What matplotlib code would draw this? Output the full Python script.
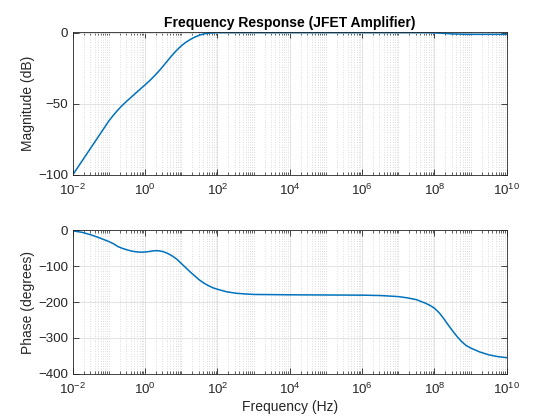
import numpy as np
import matplotlib
matplotlib.use("Agg")
import matplotlib.pyplot as plt
from matplotlib.ticker import FixedLocator, LogLocator, NullFormatter, LogFormatterSciNotation

# log10 of frequency (Hz) where values were read
mag_logf = [-2, -1.75, -1.5, -1.25, -1.0, -0.875, -0.75, -0.625, -0.5, -0.375, -0.25, -0.125, 0.0,
            0.125, 0.25, 0.375, 0.5, 0.625, 0.75, 0.875, 1.0, 1.125, 1.25, 1.375, 1.5, 1.625, 1.75,
            1.875, 2.0, 3, 4, 5, 6, 7, 7.75, 8.0, 8.25, 8.5, 8.75, 9.0, 9.5, 10.0]
mag_db = [-100, -90.5, -81, -71.5, -62, -58, -54.3, -51, -48, -45.2, -42.3, -39.5, -36.7,
          -33.8, -30.6, -27.2, -23.5, -19.6, -15.8, -12.3, -9.3, -6.8, -4.8, -3.1, -1.8, -0.9, -0.4,
          -0.15, 0, 0, 0, 0, 0, 0, 0, -0.2, -0.5, -0.9, -1.1, -1.2, -1.2, -1.2]

ph_logf = [-2, -1.75, -1.5, -1.25, -1.0, -0.875, -0.75, -0.625, -0.5, -0.375, -0.25, -0.125, 0.0,
           0.125, 0.25, 0.375, 0.5, 0.625, 0.75, 0.875, 1.0, 1.125, 1.25, 1.375, 1.5, 1.625, 1.75,
           1.875, 2.0, 2.25, 2.5, 2.75, 3, 4, 5, 6, 6.5, 7.0, 7.25, 7.5, 7.75, 7.875, 8.0,
           8.125, 8.25, 8.375, 8.5, 8.625, 8.75, 8.875, 9.0, 9.25, 9.5, 9.75, 10.0]
ph_deg = [-1, -5, -12, -21, -31, -37, -45, -50, -54, -57.5, -59.5, -60.5, -60,
          -58.5, -56.5, -56.5, -59, -64, -71, -80, -92, -104, -116, -127, -138, -147, -154,
          -160, -164, -171, -175, -177, -178.5, -179.5, -180, -180.5, -181.5, -184.5, -188, -193, -203, -209, -217,
          -229, -245, -263, -280, -296, -310, -321, -328, -339, -347, -352, -355]

title = "Frequency Response (JFET Amplifier)"
ylabel_mag = "Magnitude (dB)"
ylabel_ph = "Phase (degrees)"
xlabel = "Frequency (Hz)"
mag_yticks = [-100, -50, 0]
ph_yticks = [-400, -300, -200, -100, 0]
xmajor = [1e-2, 1e0, 1e2, 1e4, 1e6, 1e8, 1e10]

plt.rcParams['font.family'] = ['Liberation Sans', 'DejaVu Sans']
plt.rcParams['mathtext.fontset'] = 'custom'
plt.rcParams['mathtext.rm'] = 'Liberation Sans'
plt.rcParams['mathtext.it'] = 'Liberation Sans'

line_color = '#0072BD'
axc = '#262626'

fig = plt.figure(figsize=(5.6, 4.2), dpi=100)
ax1 = fig.add_axes([0.13, 0.5838, 0.775, 0.3412])
ax2 = fig.add_axes([0.13, 0.11, 0.775, 0.3412])

def style(ax, yticks, ylim):
    ax.set_xscale('log')
    ax.set_xlim(1e-2, 1e10)
    ax.set_ylim(*ylim)
    ax.xaxis.set_major_locator(FixedLocator(xmajor))
    ax.xaxis.set_major_formatter(LogFormatterSciNotation())
    ax.xaxis.set_minor_locator(LogLocator(base=10, subs=np.arange(1, 10), numticks=100))
    ax.xaxis.set_minor_formatter(NullFormatter())
    ax.set_yticks(yticks)
    ax.tick_params(which='both', direction='in', top=True, right=True, colors=axc,
                   labelsize=9.6, labelcolor=axc)
    ax.tick_params(axis='x', which='major', pad=6)
    ax.tick_params(which='major', length=4, width=0.6)
    ax.tick_params(which='minor', length=2, width=0.5)
    ax.grid(True, which='major', color='#dedede', linewidth=0.6, linestyle='-')
    ax.grid(True, which='minor', axis='x', color='#d0d0d0', linewidth=0.6, linestyle=(0, (1, 2)))
    ax.set_axisbelow(True)
    for s in ax.spines.values():
        s.set_color(axc)
        s.set_linewidth(0.6)

f_mag = [10.0 ** v for v in mag_logf]
f_ph = [10.0 ** v for v in ph_logf]

ax1.plot(f_mag, mag_db, color=line_color, linewidth=1.1)
style(ax1, mag_yticks, (-100, 0.8))
ax1.set_ylabel(ylabel_mag, fontsize=10, color=axc, labelpad=2)
ax1.set_title(title, fontsize=10, fontweight='bold', color='black', pad=3)

ax2.plot(f_ph, ph_deg, color=line_color, linewidth=1.1)
style(ax2, ph_yticks, (-400, 0))
ax2.set_ylabel(ylabel_ph, fontsize=10, color=axc, labelpad=2)
ax2.set_xlabel(xlabel, fontsize=10, color=axc, labelpad=2)

fig.savefig("out.png", dpi=100)
